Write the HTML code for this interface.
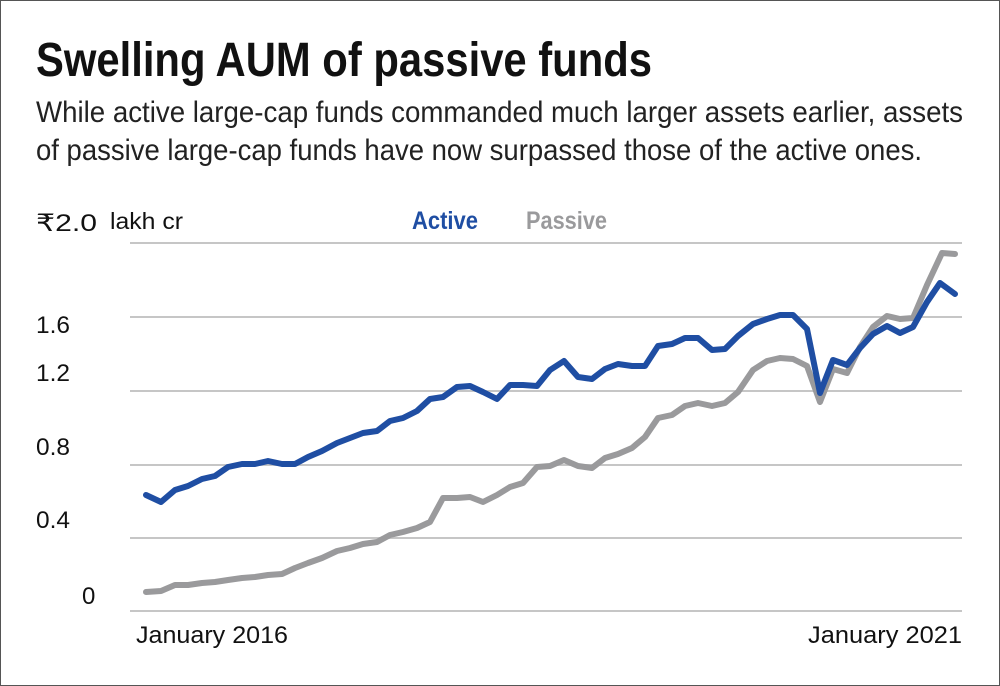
<!DOCTYPE html>
<html><head><meta charset="utf-8"><style>
body{margin:0;background:#fff}
.f{position:relative;width:998px;height:684px;border:1px solid #555;overflow:hidden;font-family:"Liberation Sans",sans-serif}
svg text{font-family:"Liberation Sans",sans-serif}
</style></head><body><div class="f">
<svg width="998" height="684" viewBox="1 1 998 684">
<text x="36" y="76" font-size="48" font-weight="bold" fill="#111" textLength="616" lengthAdjust="spacingAndGlyphs">Swelling AUM of passive funds</text>
<text x="36" y="122" font-size="30" fill="#222" textLength="927" lengthAdjust="spacingAndGlyphs">While active large-cap funds commanded much larger assets earlier, assets</text>
<text x="36" y="160" font-size="30" fill="#222" textLength="886" lengthAdjust="spacingAndGlyphs">of passive large-cap funds have now surpassed those of the active ones.</text>
<g stroke="#c6c6c6" stroke-width="2">
<line x1="130" x2="962" y1="243" y2="243"/><line x1="130" x2="962" y1="317" y2="317"/>
<line x1="130" x2="962" y1="391" y2="391"/><line x1="130" x2="962" y1="465" y2="465"/>
<line x1="130" x2="962" y1="538" y2="538"/><line x1="130" x2="962" y1="611" y2="611"/>
</g>
<g font-size="24" fill="#111">
<text x="36" y="231" textLength="61" lengthAdjust="spacingAndGlyphs">₹2.0</text>
<text x="110" y="229" font-size="23" textLength="73" lengthAdjust="spacingAndGlyphs">lakh cr</text>
<text x="36" y="333" textLength="34" lengthAdjust="spacingAndGlyphs">1.6</text>
<text x="36" y="381" textLength="34" lengthAdjust="spacingAndGlyphs">1.2</text>
<text x="36" y="455" textLength="34" lengthAdjust="spacingAndGlyphs">0.8</text>
<text x="36" y="528" textLength="34" lengthAdjust="spacingAndGlyphs">0.4</text>
<text x="82" y="604">0</text>
<text x="136" y="643" textLength="152" lengthAdjust="spacingAndGlyphs">January 2016</text>
<text x="808" y="643" textLength="154" lengthAdjust="spacingAndGlyphs">January 2021</text>
</g>
<text x="412" y="229" font-size="25" font-weight="bold" fill="#1f4ea3" textLength="66" lengthAdjust="spacingAndGlyphs">Active</text>
<text x="526" y="229" font-size="25" font-weight="bold" fill="#9a9a9c" textLength="81" lengthAdjust="spacingAndGlyphs">Passive</text>
<polyline fill="none" stroke="#9a9a9c" stroke-width="6" stroke-linejoin="round" stroke-linecap="round" points="146,592 161,591 175,585 188,585 202,583 215,582 228,580 242,578 255,577 268,575 282,574 295,568 308,563 322,558 337,551 350,548 363,544 377,542 390,535 403,532 417,528 430,522 443,498 457,498 470,497 483,502 497,495 510,487 523,483 537,467 550,466 564,460 578,466 592,468 605,458 618,454 632,448 645,437 658,418 672,415 685,406 698,403 712,406 725,403 738,392 753,370 767,361 780,358 793,359 807,366 820,402 833,369 847,373 860,347 873,327 887,316 900,319 913,318 927,285 942,253 955,254"/>
<polyline fill="none" stroke="#1f4ea3" stroke-width="6" stroke-linejoin="round" stroke-linecap="round" points="146,495 161,502 175,490 188,486 202,479 215,476 228,467 242,464 255,464 268,461 282,464 295,464 308,457 322,451 337,443 350,438 363,433 377,431 390,421 403,418 417,411 430,399 443,397 457,387 470,386 483,392 497,399 510,385 523,385 537,386 550,370 564,361 578,377 592,379 605,369 618,364 632,366 645,366 658,346 672,344 685,338 698,338 712,350 725,349 738,336 753,324 767,319 780,315 793,315 807,329 820,393 833,360 847,365 860,348 873,334 887,326 900,333 913,327 927,302 940,283 955,294"/>
</svg></div></body></html>
